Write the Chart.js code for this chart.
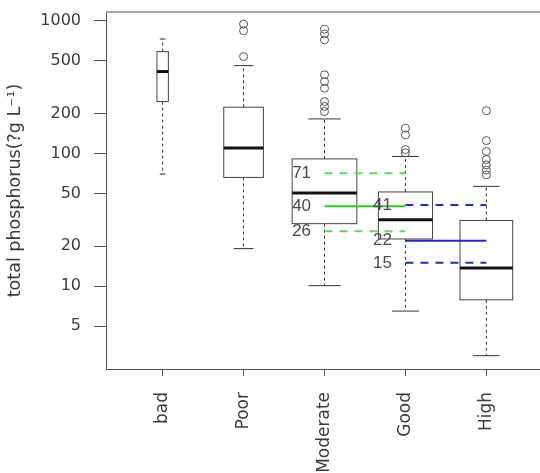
<!DOCTYPE html>
<html>
<head>
<meta charset="utf-8">
<script src="https://cdn.jsdelivr.net/npm/chart.js@4.4.1/dist/chart.umd.min.js"></script>
<style>
  html, body { margin: 0; padding: 0; background: #fff; overflow: hidden; }
  canvas { display: block; }
</style>
</head>
<body>
<canvas id="chart" width="548" height="473"></canvas>
<script>
const categories = ['bad', 'Poor', 'Moderate', 'Good', 'High'];
const sampleCounts = [5, 60, 160, 112, 106];
const whiskerLow = [70, 19.2, 10.1, 6.5, 3.0];
const lowerQuartile = [246, 66, 29.6, 22.7, 7.9];
const medians = [414, 110, 50.4, 31.7, 13.7];
const upperQuartile = [585, 223, 91, 51.3, 31.3];
const whiskerHigh = [728, 459, 182, 95, 56.5];
const outliers = [
    [],
    [944, 841, 537],
    [862, 794, 716, 391, 348, 310, 246, 226, 207],
    [155, 138, 107, 101],
    [210, 125, 103.5, 90, 82, 75, 69]
];
const yTicks = [5, 10, 20, 50, 100, 200, 500, 1000];

// reference levels: Moderate -> Good (green), Good -> High (blue)
const greenLevels = [71, 40, 26];
const blueLevels = [41, 22, 15];

const font = 'DejaVu Sans';
const textColor = '#3c3c3c';
const axisColor = '#555';

const maxCount = Math.max(...sampleCounts);
const boxWidths = sampleCounts.map(n => 0.8 * Math.sqrt(n / maxCount));

const outlierPoints = [];
outliers.forEach((vals, i) => vals.forEach(v => outlierPoints.push({ x: i + 1, y: v })));

function levelDatasets(levels, from, to, color, dashColor) {
    return levels.map((v, k) => ({
        data: [{ x: from, y: v }, { x: to, y: v }],
        showLine: true,
        pointRadius: 0,
        borderColor: k === 1 ? color : dashColor,
        borderWidth: 2,
        borderDash: k === 1 ? [] : [8, 7],
        fill: false
    }));
}

const boxPlugin = {
    id: 'boxes',
    beforeDatasetsDraw(chart) {
        const { ctx, scales: { x, y } } = chart;
        ctx.save();
        categories.forEach((c, i) => {
            const cx = x.getPixelForValue(i + 1);
            const half = (x.getPixelForValue(i + 1 + boxWidths[i] / 2) - cx);
            const yq1 = y.getPixelForValue(lowerQuartile[i]);
            const yq3 = y.getPixelForValue(upperQuartile[i]);
            const ymed = y.getPixelForValue(medians[i]);
            const ylo = y.getPixelForValue(whiskerLow[i]);
            const yhi = y.getPixelForValue(whiskerHigh[i]);

            ctx.strokeStyle = '#333';
            ctx.lineWidth = 1;
            ctx.setLineDash([3, 3]);
            ctx.beginPath();
            ctx.moveTo(cx, yq3); ctx.lineTo(cx, yhi);
            ctx.moveTo(cx, yq1); ctx.lineTo(cx, ylo);
            ctx.stroke();
            ctx.setLineDash([]);

            ctx.beginPath();
            ctx.moveTo(cx - half / 2, yhi); ctx.lineTo(cx + half / 2, yhi);
            ctx.moveTo(cx - half / 2, ylo); ctx.lineTo(cx + half / 2, ylo);
            ctx.stroke();

            ctx.strokeStyle = '#444';
            ctx.strokeRect(cx - half, yq3, half * 2, yq1 - yq3);

            ctx.strokeStyle = '#111';
            ctx.lineWidth = 3;
            ctx.beginPath();
            ctx.moveTo(cx - half, ymed); ctx.lineTo(cx + half, ymed);
            ctx.stroke();
        });
        ctx.restore();
    },
    afterDatasetsDraw(chart) {
        const { ctx, scales: { x, y } } = chart;
        ctx.save();
        ctx.fillStyle = '#4a4a4a';
        ctx.font = '17px "Liberation Sans"';
        ctx.textAlign = 'left';
        ctx.textBaseline = 'middle';
        greenLevels.forEach(v => ctx.fillText(String(v), x.getPixelForValue(2.6), y.getPixelForValue(v)));
        blueLevels.forEach(v => ctx.fillText(String(v), x.getPixelForValue(3.6), y.getPixelForValue(v)));
        ctx.restore();
    },
    afterDraw(chart) {
        const { ctx, chartArea } = chart;
        ctx.save();
        ctx.strokeStyle = '#a8a8a8';
        ctx.lineWidth = 2;
        ctx.beginPath();
        ctx.moveTo(chartArea.left, chartArea.top);
        ctx.lineTo(chartArea.right, chartArea.top);
        ctx.stroke();
        ctx.restore();
    }
};

new Chart(document.getElementById('chart'), {
    type: 'scatter',
    data: {
        datasets: [
            {
                data: outlierPoints,
                pointStyle: 'circle',
                pointRadius: 4,
                pointBackgroundColor: 'rgba(0,0,0,0)',
                pointBorderColor: '#555',
                pointBorderWidth: 1
            },
            ...levelDatasets(greenLevels, 3, 4, '#22d322', '#5edc5e'),
            ...levelDatasets(blueLevels, 4, 5, '#2626d0', '#2a2abf')
        ]
    },
    plugins: [boxPlugin],
    options: {
        responsive: false,
        animation: false,
        devicePixelRatio: 1,
        layout: { padding: { left: 0, top: 12, right: 5, bottom: 0 } },
        plugins: { legend: { display: false }, tooltip: { enabled: false } },
        scales: {
            x: {
                type: 'linear',
                min: 0.3,
                max: 5.7,
                afterBuildTicks: scale => { scale.ticks = categories.map((c, i) => ({ value: i + 1 })); },
                afterFit: scale => { scale.height = 104; scale.paddingLeft = 0; scale.paddingRight = 0; },
                grid: { drawOnChartArea: false, drawTicks: true, tickLength: 7, tickColor: axisColor },
                border: { display: true, color: axisColor, width: 1 },
                ticks: {
                    autoSkip: false,
                    minRotation: 90,
                    maxRotation: 90,
                    padding: 16,
                    color: textColor,
                    font: { family: font, size: 17 },
                    callback: (v, i) => categories[i]
                }
            },
            y: {
                type: 'logarithmic',
                min: 2.38,
                max: 1163,
                afterBuildTicks: scale => { scale.ticks = yTicks.map(v => ({ value: v })); },
                afterFit: scale => { scale.width = 106; scale.paddingTop = 0; scale.paddingBottom = 0; },
                grid: { drawOnChartArea: false, drawTicks: true, tickLength: 12, tickColor: axisColor },
                border: { display: true, color: axisColor, width: 1 },
                ticks: {
                    padding: 13,
                    color: textColor,
                    font: { family: font, size: 16 },
                    callback: v => String(v)
                },
                title: {
                    display: true,
                    text: 'total phosphorus(?g L\u207B\u00B9)',
                    color: textColor,
                    font: { family: font, size: 17.5 },
                    padding: { top: 5, bottom: 0 }
                }
            }
        }
    }
});
</script>
</body>
</html>
